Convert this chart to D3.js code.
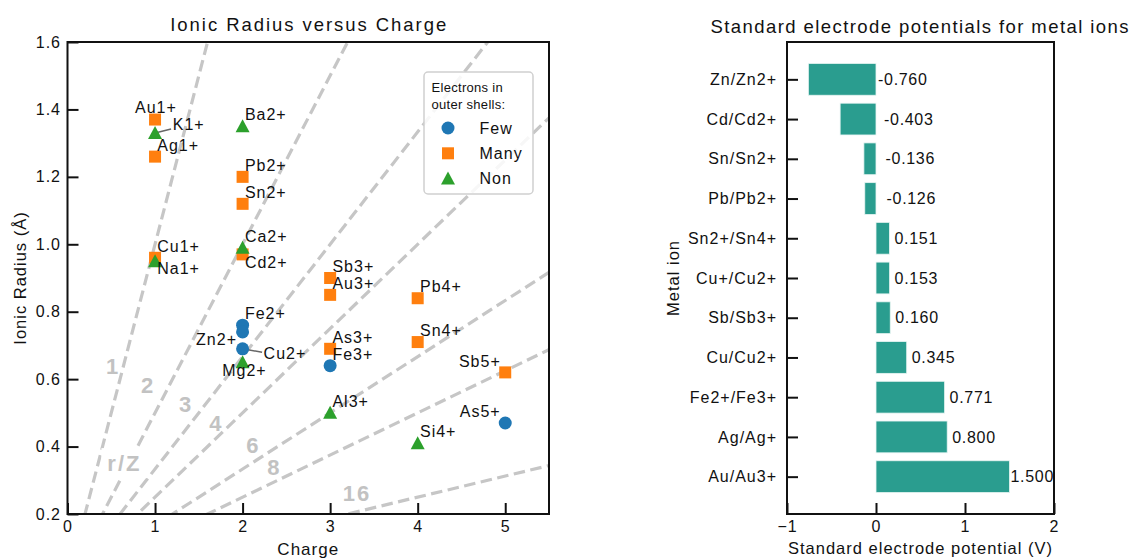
<!DOCTYPE html>
<html>
<head>
<meta charset="utf-8">
<script src="https://cdn.jsdelivr.net/npm/d3@7"></script>
<style>
  body { margin: 0; background: #fff; }
  svg { display: block; }
  text { font-family: "Liberation Sans", Arial, Helvetica, sans-serif; fill: #111; }
</style>
</head>
<body>
<svg id="chart" width="1134" height="558"></svg>
<script>
// ---- Ionic radius (Å) against charge, grouped by electrons in outer shells ----
const fewIons    = ["Fe2+", "Zn2+", "Cu2+", "Fe3+", "As5+"];
const fewCharge  = [2, 2, 2, 3, 5];
const fewRadius  = [0.76, 0.74, 0.69, 0.64, 0.47];

const manyIons   = ["Au1+", "Ag1+", "Cu1+", "Pb2+", "Sn2+", "Cd2+", "Sb3+", "Au3+", "As3+", "Pb4+", "Sn4+", "Sb5+"];
const manyCharge = [1, 1, 1, 2, 2, 2, 3, 3, 3, 4, 4, 5];
const manyRadius = [1.37, 1.26, 0.96, 1.20, 1.12, 0.97, 0.90, 0.85, 0.69, 0.84, 0.71, 0.62];

const nonIons    = ["K1+", "Na1+", "Ba2+", "Ca2+", "Mg2+", "Al3+", "Si4+"];
const nonCharge  = [1, 1, 2, 2, 2, 3, 4];
const nonRadius  = [1.33, 0.95, 1.35, 0.99, 0.65, 0.50, 0.41];

// Ionic potential guide lines Z/r = k
const ionicPotentials = [1, 2, 3, 4, 6, 8, 16];

const chargeTicks = [0, 1, 2, 3, 4, 5];
const radiusTicks = [0.2, 0.4, 0.6, 0.8, 1.0, 1.2, 1.4, 1.6];

// ---- Standard electrode potentials (V) ----
const couples = ["Zn/Zn2+", "Cd/Cd2+", "Sn/Sn2+", "Pb/Pb2+", "Sn2+/Sn4+", "Cu+/Cu2+",
                 "Sb/Sb3+", "Cu/Cu2+", "Fe2+/Fe3+", "Ag/Ag+", "Au/Au3+"];
const potentials = [-0.760, -0.403, -0.136, -0.126, 0.151, 0.153, 0.160, 0.345, 0.771, 0.800, 1.500];
const potentialTicks = [-1, 0, 1, 2];

// ---- layout ----
const svg = d3.select("#chart");
const FONT = 16, LS = "1px";

const groups = [
  { name: "Few",  color: "#1f77b4", shape: "circle",   ions: fewIons,  z: fewCharge,  r: fewRadius },
  { name: "Many", color: "#ff7f0e", shape: "square",   ions: manyIons, z: manyCharge, r: manyRadius },
  { name: "Non",  color: "#2ca02c", shape: "triangle", ions: nonIons,  z: nonCharge,  r: nonRadius }
];

// text placement around each marker: anchor, dx, dy (px), optional leader line end
const labelPlacement = {
  "Au1+": ["start", -20, -6.4],
  "K1+":  ["start", 17.7, -2.6, [16, -4]],
  "Ag1+": ["start", 2.2, -5.6],
  "Cu1+": ["start", 2.2, -5.8],
  "Na1+": ["start", 2.2, 13.1],
  "Cd2+": ["start", 2.3, 13.2],
  "Zn2+": ["end", -5.6, 13.3],
  "Cu2+": ["start", 21, 9.7, [19.5, 3.5]],
  "Mg2+": ["middle", 1.8, 14],
  "Sb5+": ["end", -4.5, -5.6],
  "As5+": ["end", -4.5, -5.6]
};
const defaultPlacement = ["start", 2.3, -6];

// ratio label positions in data space (charge, radius)
const ratioLabelAt = [[0.52, 0.637], [0.92, 0.580], [1.355, 0.526], [1.70, 0.467],
                      [2.123, 0.402], [2.363, 0.339], [3.307, 0.262]];
const ratioCaptionAt = [0.65, 0.351];

// ================= Left panel =================
const L = { left: 67.5, right: 549, top: 42, bottom: 514 };
const x = d3.scaleLinear().domain([0, 5.5]).range([L.left, L.right]);
const y = d3.scaleLinear().domain([0.2, 1.6]).range([L.bottom, L.top]);

svg.append("defs").append("clipPath").attr("id", "plotClip")
  .append("rect").attr("x", L.left).attr("y", L.top)
  .attr("width", L.right - L.left).attr("height", L.bottom - L.top);

const left = svg.append("g");

// guide lines
const guide = left.append("g").attr("clip-path", "url(#plotClip)");
const lineGen = d3.line().x(d => x(d[0])).y(d => y(d[1]));
ionicPotentials.forEach(k => {
  guide.append("path")
    .attr("d", lineGen([[0, 0], [6, 6 / k]]))
    .attr("fill", "none")
    .attr("stroke", "#c6c6c6")
    .attr("stroke-width", 3.2)
    .attr("stroke-dasharray", "11.5,5.5");
});

// guide labels
const ratioLabels = left.append("g")
  .attr("font-weight", "bold").attr("font-size", 22);
ionicPotentials.forEach((k, i) => {
  ratioLabels.append("text")
    .attr("x", x(ratioLabelAt[i][0])).attr("y", y(ratioLabelAt[i][1]))
    .attr("text-anchor", "middle").attr("dominant-baseline", "central")
    .style("fill", "#c2c2c2").style("letter-spacing", "2px")
    .text(k);
});
const cap = ratioLabels.append("g");
cap.append("rect")
  .attr("x", x(ratioCaptionAt[0]) - 23).attr("y", y(ratioCaptionAt[1]) - 15)
  .attr("width", 46).attr("height", 30).attr("fill", "#fff");
cap.append("text")
  .attr("x", x(ratioCaptionAt[0])).attr("y", y(ratioCaptionAt[1]))
  .attr("text-anchor", "middle").attr("dominant-baseline", "central")
  .style("fill", "#c2c2c2").style("letter-spacing", "2px")
  .text("r/Z");

// markers
function marker(sel, shape, color, size) {
  const h = size / 2;
  if (shape === "circle") {
    sel.append("circle").attr("r", h + 0.5).attr("fill", color);
  } else if (shape === "square") {
    sel.append("rect").attr("x", -h).attr("y", -h).attr("width", size).attr("height", size).attr("fill", color);
  } else {
    sel.append("path").attr("d", `M0,${-h - 1}L${h + 1},${h}L${-h - 1},${h}Z`).attr("fill", color);
  }
}

// leader lines first so markers sit on top
const leaders = left.append("g");
const pts = left.append("g");
const labels = left.append("g").attr("font-size", FONT).style("letter-spacing", LS);

groups.forEach(g => {
  g.ions.forEach((ion, i) => {
    const px = x(g.z[i]), py = y(g.r[i]);
    const p = labelPlacement[ion] || defaultPlacement;
    if (p[3]) {
      leaders.append("line")
        .attr("x1", px).attr("y1", py)
        .attr("x2", px + p[3][0]).attr("y2", py + p[3][1])
        .attr("stroke", "#666").attr("stroke-width", 1.5);
    }
    const m = pts.append("g").attr("transform", `translate(${px},${py})`);
    marker(m, g.shape, g.color, 12);
    labels.append("text")
      .attr("x", px + p[1]).attr("y", py + p[2])
      .attr("text-anchor", p[0])
      .text(ion);
  });
});

// axes
const xAxisL = d3.axisBottom(x).tickValues(chargeTicks).tickFormat(d3.format("d"))
  .tickSize(-11).tickPadding(7);
const yAxisL = d3.axisLeft(y).tickValues(radiusTicks).tickFormat(d3.format(".1f"))
  .tickSize(-11).tickPadding(6.5);

function styleAxis(g) {
  g.select(".domain").remove();
  g.selectAll(".tick line").attr("stroke", "#111").attr("stroke-width", 2);
  g.selectAll(".tick text").attr("font-size", FONT).style("letter-spacing", LS)
    .style("font-family", '"Liberation Sans", Arial, sans-serif').attr("fill", "#111");
}
left.append("g").attr("transform", `translate(0,${L.bottom})`).call(xAxisL).call(styleAxis);
left.append("g").attr("transform", `translate(${L.left},0)`).call(yAxisL).call(styleAxis);

left.append("rect")
  .attr("x", L.left).attr("y", L.top)
  .attr("width", L.right - L.left).attr("height", L.bottom - L.top)
  .attr("fill", "none").attr("stroke", "#111").attr("stroke-width", 2);

left.append("text")
  .attr("x", (L.left + L.right) / 2).attr("y", 30.5)
  .attr("text-anchor", "middle").attr("font-size", 18.5)
  .attr("textLength", 276).attr("lengthAdjust", "spacing")
  .text("Ionic Radius versus Charge");
left.append("text")
  .attr("x", (L.left + L.right) / 2).attr("y", 555)
  .attr("text-anchor", "middle").attr("font-size", 17).style("letter-spacing", LS)
  .text("Charge");
left.append("text")
  .attr("transform", `translate(26,${(L.top + L.bottom) / 2}) rotate(-90)`)
  .attr("text-anchor", "middle").attr("font-size", 16.5).style("letter-spacing", LS)
  .text("Ionic Radius (Å)");

// legend
const lg = left.append("g");
lg.append("rect").attr("x", 424).attr("y", 72).attr("width", 109).attr("height", 122)
  .attr("rx", 4).attr("fill", "#fff").attr("fill-opacity", 0.85)
  .attr("stroke", "#d0d0d0").attr("stroke-width", 1.5);
lg.append("text").attr("x", 431.5).attr("y", 92).attr("font-size", 13).style("letter-spacing", "0.3px")
  .text("Electrons in");
lg.append("text").attr("x", 431.5).attr("y", 108.5).attr("font-size", 13).style("letter-spacing", "0.3px")
  .text("outer shells:");
groups.forEach((g, i) => {
  const cy = 128 + i * 25.3;
  const m = lg.append("g").attr("transform", `translate(448,${cy})`);
  marker(m, g.shape, g.color, 12);
  lg.append("text").attr("x", 479.5).attr("y", cy + 5.5)
    .attr("font-size", FONT).style("letter-spacing", LS).text(g.name);
});

// ================= Right panel =================
const R = { left: 787, right: 1054, top: 42, bottom: 514 };
const xr = d3.scaleLinear().domain([-1, 2]).range([R.left, R.right]);
const yr = d3.scaleLinear().domain([-0.94, couples.length - 1 + 0.94]).range([R.top, R.bottom]);
const barHalf = (yr(0.4) - yr(-0.4)) / 2;

// gap between bar end and its value label (px)
const valueLabelGap = [2, 8, 9.5, 10.5, 5, 5, 5, 5, 5, 5, 1];

const right = svg.append("g");

right.selectAll("rect.bar").data(potentials).join("rect")
  .attr("class", "bar")
  .attr("x", d => xr(Math.min(0, d)))
  .attr("width", d => Math.abs(xr(d) - xr(0)))
  .attr("y", (d, i) => yr(i) - barHalf)
  .attr("height", barHalf * 2)
  .attr("fill", "#2a9d8f")
  .attr("stroke", "#e8f5f3").attr("stroke-width", 0.8);

right.selectAll("text.val").data(potentials).join("text")
  .attr("class", "val")
  .attr("x", (d, i) => xr(Math.max(0, d)) + valueLabelGap[i])
  .attr("y", (d, i) => yr(i))
  .attr("dy", "0.35em")
  .attr("font-size", FONT).style("letter-spacing", "0.7px")
  .text(d => d3.format(".3f")(d).replace("\u2212", "-"));

const xAxisR = d3.axisBottom(xr).tickValues(potentialTicks).tickFormat(d3.format("d"))
  .tickSize(-11).tickPadding(7);
const yAxisR = d3.axisLeft(yr).tickValues(d3.range(couples.length))
  .tickFormat(i => couples[i]).tickSize(-11).tickPadding(10);

right.append("g").attr("transform", `translate(0,${R.bottom})`).call(xAxisR).call(styleAxis);
right.append("g").attr("transform", `translate(${R.left},0)`).call(yAxisR).call(styleAxis);

right.append("rect")
  .attr("x", R.left).attr("y", R.top)
  .attr("width", R.right - R.left).attr("height", R.bottom - R.top)
  .attr("fill", "none").attr("stroke", "#111").attr("stroke-width", 2);

right.append("text")
  .attr("x", (R.left + R.right) / 2 - 1).attr("y", 33)
  .attr("text-anchor", "middle").attr("font-size", 18.5)
  .attr("textLength", 418).attr("lengthAdjust", "spacing")
  .text("Standard electrode potentials for metal ions");
right.append("text")
  .attr("x", (R.left + R.right) / 2).attr("y", 554)
  .attr("text-anchor", "middle").attr("font-size", 16.5).style("letter-spacing", LS)
  .text("Standard electrode potential (V)");
right.append("text")
  .attr("transform", `translate(679,${(R.top + R.bottom) / 2}) rotate(-90)`)
  .attr("text-anchor", "middle").attr("font-size", 16.5).style("letter-spacing", LS)
  .text("Metal ion");
</script>
</body>
</html>
